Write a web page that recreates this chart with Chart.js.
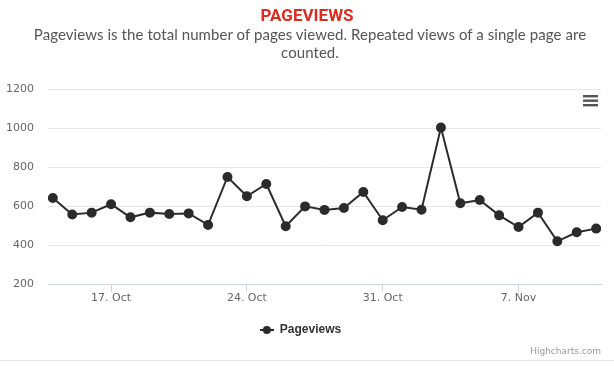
<!DOCTYPE html>
<html>
<head>
<meta charset="utf-8">
<script src="https://cdn.jsdelivr.net/npm/chart.js@4.4.1/dist/chart.umd.min.js"></script>
<style>
  body { margin: 0; background: #fff; }
  #wrap { position: relative; width: 614px; height: 366px; overflow: hidden; }
  #titulo { position: absolute; left: 0; top: 5px; width: 614px; text-align: center;
    font: bold 17px "Liberation Sans Narrow", "Roboto", sans-serif; color: #dd2b1f; }
  #sub { position: absolute; left: 3px; top: 25px; width: 614px; text-align: center;
    font: 15px "Lato", "Open Sans", sans-serif; color: #555; line-height: 18px; letter-spacing: 0.07px; }
  canvas { position: absolute; left: 0; top: 0; }
</style>
</head>
<body>
<div id="wrap">
  <canvas id="grafico" width="614" height="366"></canvas>
  <div id="titulo">PAGEVIEWS</div>
  <div id="sub">Pageviews is the total number of pages viewed. Repeated views of a single page are<br>counted.</div>
</div>
<script>
// dados (14 Oct -> 11 Nov)
const dias = ['14 Oct', '15 Oct', '16 Oct', '17 Oct', '18 Oct', '19 Oct', '20 Oct', '21 Oct', '22 Oct', '23 Oct',
  '24 Oct', '25 Oct', '26 Oct', '27 Oct', '28 Oct', '29 Oct', '30 Oct', '31 Oct', '1 Nov', '2 Nov',
  '3 Nov', '4 Nov', '5 Nov', '6 Nov', '7 Nov', '8 Nov', '9 Nov', '10 Nov', '11 Nov'];
const pageviews = [641, 556, 566, 609, 542, 566, 559, 562, 503, 749,
  650, 713, 496, 598, 580, 590, 672, 527, 595, 581,
  1002, 614, 631, 552, 492, 566, 419, 465, 484];
const diasMarcados = ['17 Oct', '24 Oct', '31 Oct', '7 Nov'];
const rotulosX = ['17. Oct', '24. Oct', '31. Oct', '7. Nov'];
const ticksY = [200, 400, 600, 800, 1000, 1200];

const posMarcas = diasMarcados.map(d => dias.indexOf(d));

// simbolo da legenda: linha com bolinha no meio
function simboloLegenda() {
    const c = document.createElement('canvas');
    c.width = 14;
    c.height = 10;
    const g = c.getContext('2d');
    g.strokeStyle = '#2b2b2b';
    g.lineWidth = 2;
    g.beginPath();
    g.moveTo(0, 5);
    g.lineTo(14, 5);
    g.stroke();
    g.fillStyle = '#2b2b2b';
    g.beginPath();
    g.arc(7, 5, 4, 0, Math.PI * 2);
    g.fill();
    return c;
}

const extras = {
    id: 'extras',
    afterDraw(chart) {
        const ctx = chart.ctx;
        ctx.save();
        // menu (hamburguer)
        ctx.fillStyle = '#555';
        [95, 99.5, 104].forEach(y => ctx.fillRect(583, y, 15, 2.4));
        // creditos
        ctx.font = '9px "DejaVu Sans", sans-serif';
        ctx.fillStyle = '#999';
        ctx.textAlign = 'right';
        ctx.textBaseline = 'middle';
        ctx.fillText('Highcharts.com', 601, 352);
        // linha de baixo
        ctx.fillStyle = '#e6e6e6';
        ctx.fillRect(0, 360, 614, 1);
        ctx.restore();
    }
};

const ctx = document.getElementById('grafico');
new Chart(ctx, {
    type: 'line',
    data: {
        datasets: [{
            label: 'Pageviews',
            data: pageviews.map((v, i) => ({ x: i, y: v })),
            borderColor: '#2b2b2b',
            backgroundColor: '#2b2b2b',
            borderWidth: 2,
            pointRadius: 4,
            pointHoverRadius: 5,
            tension: 0
        }]
    },
    options: {
        responsive: false,
        animation: false,
        layout: {
            padding: { left: 0, right: 13, top: 89, bottom: 20 }
        },
        scales: {
            x: {
                type: 'linear',
                min: -0.25,
                max: dias.length - 0.75,
                afterBuildTicks: axis => { axis.ticks = posMarcas.map(v => ({ value: v })); },
                afterFit: axis => { axis.height = 30; },
                grid: {
                    drawOnChartArea: false,
                    drawTicks: true,
                    tickLength: 8,
                    color: '#ccd6eb'
                },
                border: { color: '#ccd6eb', width: 1 },
                ticks: {
                    autoSkip: false,
                    maxRotation: 0,
                    padding: 0,
                    color: '#666',
                    font: { family: '"DejaVu Sans", sans-serif', size: 11 },
                    callback: v => rotulosX[posMarcas.indexOf(v)]
                }
            },
            y: {
                min: 200,
                max: 1200,
                afterBuildTicks: axis => { axis.ticks = ticksY.map(v => ({ value: v })); },
                afterFit: axis => { axis.width = 48; },
                grid: { color: '#e6e6e6', drawTicks: false },
                border: { display: false },
                ticks: {
                    padding: 14,
                    color: '#666',
                    font: { family: '"DejaVu Sans", sans-serif', size: 11 },
                    callback: v => String(v)
                }
            }
        },
        plugins: {
            legend: {
                position: 'bottom',
                labels: {
                    usePointStyle: true,
                    pointStyle: simboloLegenda(),
                    pointStyleWidth: 14,
                    boxHeight: 10,
                    padding: 10,
                    color: '#333',
                    font: { family: '"Liberation Sans", Arial, sans-serif', size: 12, weight: 'bold' }
                }
            },
            tooltip: { enabled: true }
        }
    },
    plugins: [extras]
});
</script>
</body>
</html>
